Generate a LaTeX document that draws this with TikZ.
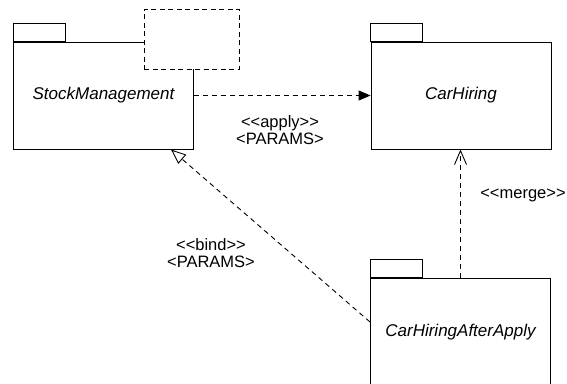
\documentclass[tikz,border=0pt]{standalone}
\usepackage{fontspec}
\setmainfont{Liberation Sans}
\usetikzlibrary{arrows.meta}
\colorlet{pkg edge}{black}
\tikzset{pkg/.style={draw=pkg edge, fill=white, line width=0.9pt, inner sep=0pt,
        minimum width=180pt, minimum height=107pt, font=\fontsize{17}{19}\selectfont\itshape},
    pkgtab/.style={draw=pkg edge, line width=0.9pt},
    tmplbox/.style={draw=pkg edge, fill=white, line width=0.9pt, dash pattern=on 5pt off 3.5pt,
        inner sep=0pt, minimum width=95pt, minimum height=60pt},
    dep/.style={line width=0.9pt, dash pattern=on 5pt off 4pt},
    lbl/.style={align=center, inner sep=0pt, font=\fontsize{16.5}{17}\selectfont}}
\def\tab#1{\draw[pkgtab] (#1.north west) rectangle ++(52,-18);}
\def\lq{<\kern0pt<}
\def\rq{>\kern0pt>}

\begin{document}
\begin{tikzpicture}[x=1pt, y=-1pt]
    \useasboundingbox (0,0) rectangle (567,383);
    \clip (0,0) rectangle (567,383);
    % packages
    \node[pkg] (stock) at (103.5,95.5) {StockManagement};
    \tab{stock}
    \node[tmplbox] (params) at (191.5,39) {};
    \node[pkg] (hire) at (461,95.5) {CarHiring};
    \tab{hire}
    \node[pkg, minimum height=108pt] (after) at (460.5,332) {CarHiringAfterApply};
    \tab{after}
    % dependencies
    \draw[dep, -{Triangle[length=12pt,width=10pt]}] (stock.east) -- (hire.west);
    \node[lbl] (applylbl) at (280,130) {\lq apply\rq\\<PARAMS>};
    \draw[dep, -{Triangle[open,length=15pt,width=12pt,fill=white]}]
        ([yshift=10pt]after.west) -- ([xshift=-23pt]stock.south east);
    \node[lbl] (bindlbl) at (211,253) {\lq bind\rq\\<PARAMS>};
    \draw[dep, -{Straight Barb[length=14pt,width=12pt]}] (after.north) -- (after.north |- hire.south);
    \node[lbl] (mergelbl) at (523,195) {\lq merge\rq};
\end{tikzpicture}
\end{document}
